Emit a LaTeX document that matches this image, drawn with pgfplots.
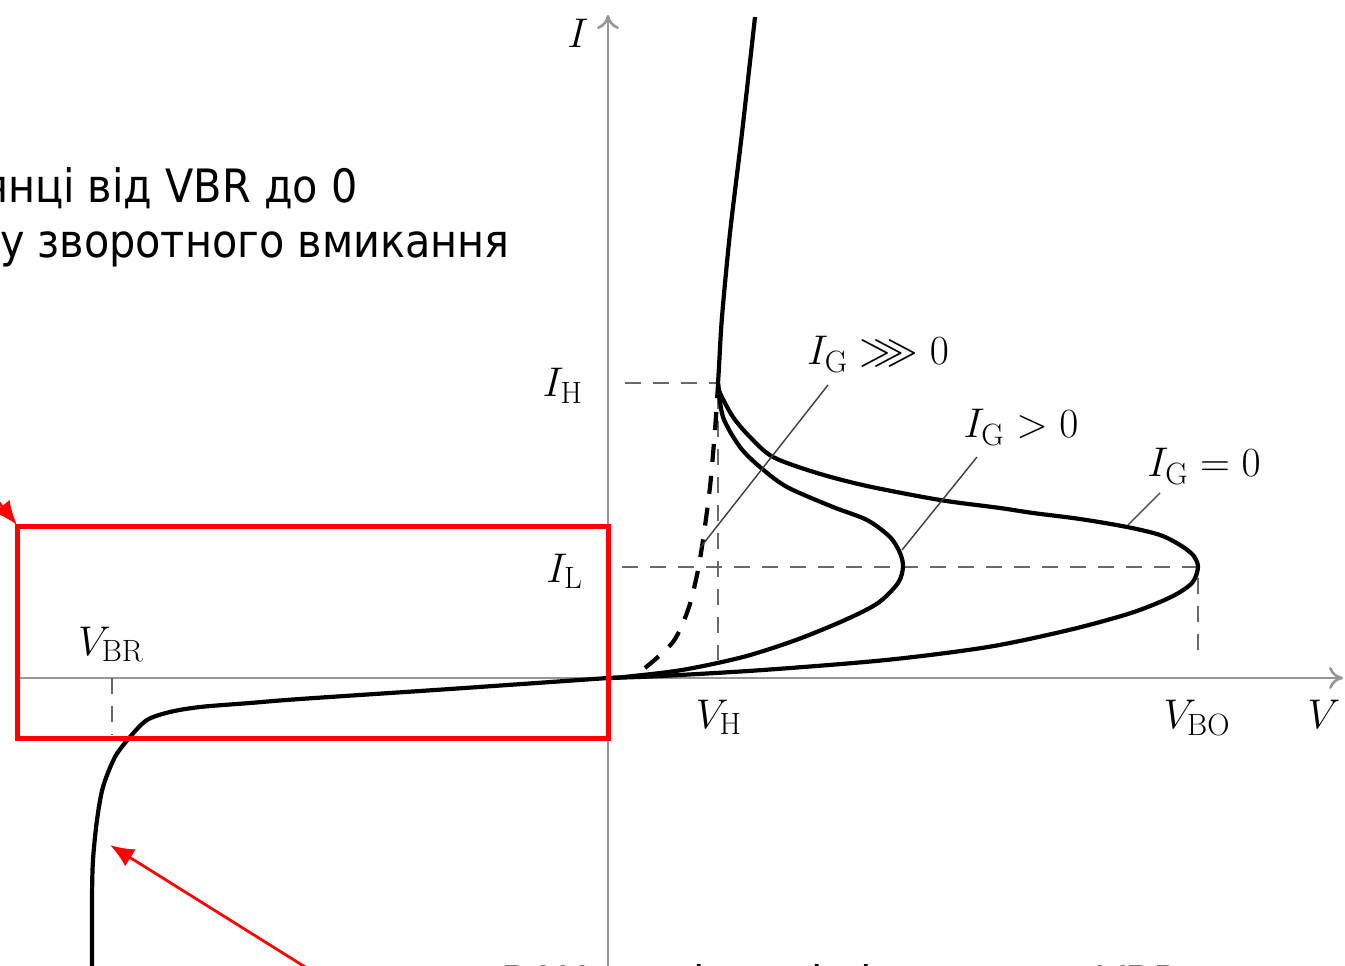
\documentclass[border=0pt]{standalone}
\usepackage{amssymb}
\usepackage{pgfplots}
\pgfplotsset{compat=1.18}
\usepackage{fontspec}
\usetikzlibrary{arrows.meta}
\newfontfamily\uafont{DejaVu Sans Condensed}

\definecolor{axiscol}{RGB}{150,150,150}
\definecolor{dashcol}{RGB}{105,105,105}
\definecolor{leadcol}{RGB}{60,60,60}

\begin{document}
\begin{tikzpicture}[
  curve/.style={black, line width=2.1pt, smooth},
  guide/.style={dashcol, line width=1.1pt, dash pattern=on 8pt off 6pt},
  lab/.style={font=\fontsize{22}{26}\selectfont},
  ua/.style={inner sep=0pt, font=\uafont\fontsize{23}{27}\selectfont},
]
\begin{axis}[
  name=main, at={(0,0)}, anchor=south west,
  scale only axis, width=672.5pt, height=482.5pt,
  xmin=-608, xmax=737, ymin=-287, ymax=678,
  hide axis, clip=false,
]
% axes
\draw[axiscol, line width=1.3pt, -{To[length=7pt,width=11pt]}] (axis cs:-588,0) -- (axis cs:735,0);
\draw[axiscol, line width=1.3pt, -{To[length=7pt,width=11pt]}] (axis cs:0,-300) -- (axis cs:0,663);

% guide lines
\draw[guide] (axis cs:17,295) -- (axis cs:110,295);
\draw[guide] (axis cs:14,111) -- (axis cs:590,111);
\draw[guide] (axis cs:110,285) -- (axis cs:110,18);
\draw[guide] (axis cs:590,100) -- (axis cs:590,18);
\draw[guide] (axis cs:-496,0) -- (axis cs:-496,-57);

% I_G = 0
\addplot[curve, no marks] coordinates {
 (0,0) (53,2) (155,8) (278,18) (380,31) (461,48) (523,65) (563,81) (584,95) (590,111)
 (585,123) (572,133) (552,143) (519,151) (472,159) (425,165) (392,170) (332,178)
 (259,192) (209,205) (165,221) (142,241) (125,261) (112,285) (110,295)};
% I_G > 0
\addplot[curve, no marks] coordinates {
 (0,0) (16,1) (74,8) (135,21) (188,38) (237,58) (270,75) (290,95) (295,111)
 (292,125) (282,141) (259,158) (225,171) (179,191) (152,211) (132,231) (115,261)
 (110,295)};
% I_G >> 0
\addplot[curve, no marks, dash pattern=on 9pt off 7pt] coordinates {
 (37,10) (65,36) (80,68) (89,103) (95,138) (102,191) (107,248) (109,278) (110,293)};
% on-state branch
\addplot[curve, no marks] coordinates {
 (110,295) (111,311) (114,361) (122,445) (134,545) (147,661)};
% reverse branch
\addplot[curve, no marks] coordinates {
 (0,0) (-158,-11) (-308,-21) (-358,-25) (-408,-29) (-438,-34) (-461,-42) (-478,-59)
 (-493,-79) (-505,-109) (-511,-142) (-515,-182) (-516,-222) (-516,-297)};

% leader lines
\draw[leadcol, line width=0.7pt] (axis cs:220,293) -- (axis cs:92,130);
\draw[leadcol, line width=0.7pt] (axis cs:369,221) -- (axis cs:294,128);
\draw[leadcol, line width=0.7pt] (axis cs:552,185) -- (axis cs:520,153);

% labels
\node[lab, anchor=base] at (axis cs:-30,630) {$I$};
\node[lab, anchor=base east] at (axis cs:-18,281) {$I_{\mathrm{H}}$};
\node[lab, anchor=base east] at (axis cs:-18,96) {$I_{\mathrm{L}}$};
\node[lab, anchor=base] at (axis cs:-497,23) {$V_{\mathrm{BR}}$};
\node[lab, anchor=base] at (axis cs:111,-50) {$V_{\mathrm{H}}$};
\node[lab, anchor=base] at (axis cs:589,-50) {$V_{\mathrm{BO}}$};
\node[lab, anchor=base] at (axis cs:716,-50) {$V$};
\node[lab, anchor=base] at (axis cs:270,313) {$I_{\mathrm{G}}\ggg 0$};
\node[lab, anchor=base] at (axis cs:413,240) {$I_{\mathrm{G}}>0$};
\node[lab, anchor=base] at (axis cs:596,201) {$I_{\mathrm{G}}=0$};

% slide annotations
\node[ua, anchor=base east] at (axis cs:-250,475) {На ділянці від VBR до 0};
\node[ua, anchor=base east] at (axis cs:-98,420) {режиму зворотного вмикання};
\node[ua, anchor=base west] at (axis cs:-107,-321) {ВАХ на ділянці від нуля до VBR};

\draw[red, line width=2.5pt] (axis cs:-590,151) rectangle (axis cs:0,-60);
\draw[red, line width=1.4pt, -{Latex[length=12pt,width=10pt]}] (axis cs:-640,214) -- (axis cs:-591,153);
\draw[red, line width=1.4pt, -{Latex[length=12pt,width=10pt]}] (axis cs:-298,-292) -- (axis cs:-498,-167);
\end{axis}
\pgfresetboundingbox
\useasboundingbox (main.south west) rectangle (main.north east);
\end{tikzpicture}
\end{document}
